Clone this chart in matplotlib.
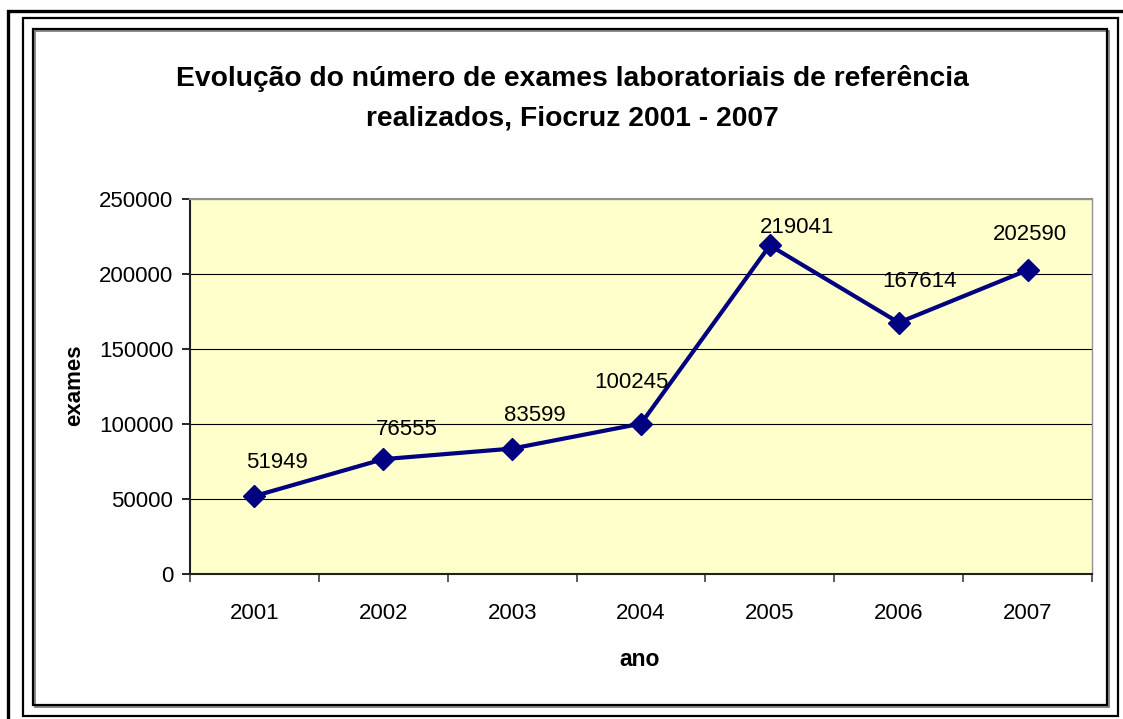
import matplotlib.pyplot as plt
from matplotlib.patches import Rectangle

# dados
anos = ['2001', '2002', '2003', '2004', '2005', '2006', '2007']
exames = [51949, 76555, 83599, 100245, 219041, 167614, 202590]
# deslocamento dos rotulos (pixels, x / y para cima)
offsets = [(23, 34), (24, 30), (23, 33), (-10, 41), (27, 18), (21, 41), (2, 36)]

W, H = 1123, 719
fig = plt.figure(figsize=(W / 100, H / 100), dpi=100)
plt.rcParams['font.family'] = ['Liberation Sans', 'DejaVu Sans']

# molduras
def frame(x0, y0, x1, y1, lw, color='black'):
    fig.add_artist(Rectangle((x0 / W, 1 - y1 / H), (x1 - x0) / W, (y1 - y0) / H,
                             transform=fig.transFigure, fill=False,
                             edgecolor=color, linewidth=lw))

frame(8, 11, 1130, 730, 2.4)
frame(23, 18, 1118, 716, 1.6)
frame(35, 31, 1109, 707, 1.3, '#808080')
frame(33, 29, 1107, 705, 1.6)

# area do grafico
ax = fig.add_axes([190 / W, 1 - 574 / H, (1092 - 190) / W, (574 - 199) / H])
ax.set_facecolor('#FFFFCC')
x = list(range(len(anos)))
ax.plot(x, exames, color='#000080', linewidth=3, marker='D', markersize=11.5, zorder=3)

for xi, v, (dx, dy) in zip(x, exames, offsets):
    ax.annotate(str(v), (xi, v), xytext=(dx * 0.72, dy * 0.72), textcoords='offset points',
                ha='center', va='center', fontsize=16, color='black')

ax.set_xlim(-0.5, len(anos) - 0.5)
ax.set_ylim(0, 250000)
ax.set_yticks(range(0, 250001, 50000))
ax.set_yticklabels([str(t) for t in range(0, 250001, 50000)], fontsize=16)
ax.yaxis.grid(True, color='#000000', linewidth=0.8)
ax.set_axisbelow(True)

ax.set_xticks(x)
ax.set_xticklabels(anos, fontsize=16)
ax.set_xticks([i - 0.5 for i in range(len(anos) + 1)], minor=True)
ax.tick_params(axis='x', which='major', length=0, pad=21)
ax.tick_params(axis='x', which='minor', length=6, width=1.2, color='#404040')
ax.tick_params(axis='y', length=6, width=1.2, pad=6)

for s in ['left', 'bottom']:
    ax.spines[s].set_linewidth(1.5)
    ax.spines[s].set_color('#202020')
ax.spines['top'].set_color('#909090')
ax.spines['top'].set_linewidth(1.5)
ax.spines['right'].set_color('#909090')
ax.spines['right'].set_linewidth(1.0)

fig.text(640 / W, 1 - 660 / H, 'ano', ha='center', va='center',
         fontsize=16.5, fontweight='bold')
fig.text(75 / W, 1 - 385 / H, 'exames', ha='center', va='center', rotation=90,
         fontsize=16, fontweight='bold')

fig.text(572 / W, 1 - 98 / H,
         'Evolução do número de exames laboratoriais de referência\nrealizados, Fiocruz 2001 - 2007',
         ha='center', va='center', fontsize=20.3, fontweight='bold', linespacing=1.67)

fig.savefig('out.png', dpi=100)
